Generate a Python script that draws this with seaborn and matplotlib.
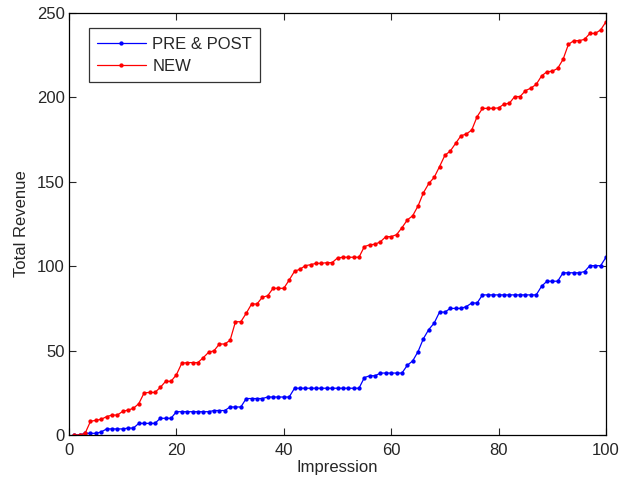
import numpy as np
import pandas as pd
import matplotlib
matplotlib.use("Agg")
import matplotlib.pyplot as plt
import seaborn as sns

impression = list(range(1, 101))

pre_post = [0, 0, 1, 1, 1, 1.8, 3.6, 3.6, 3.6, 3.6,
            4.1, 4.1, 6.9, 6.9, 6.9, 6.9, 9.9, 9.9, 9.9, 13.8,
            13.8, 13.8, 13.8, 13.8, 13.8, 13.8, 14.5, 14.5, 14.5, 16.6,
            16.6, 16.6, 21.6, 21.6, 21.6, 21.6, 22.5, 22.5, 22.5, 22.5,
            22.5, 27.7, 27.7, 27.7, 27.7, 27.7, 27.7, 27.7, 27.7, 27.7,
            27.7, 27.7, 27.7, 27.7, 34.0, 35.1, 35.1, 36.7, 36.7, 36.7,
            36.7, 36.7, 41.3, 43.9, 49.4, 57.1, 62.5, 66.3, 72.8, 72.8,
            75.0, 75.0, 75.0, 76.1, 78.2, 78.2, 83.0, 83.0, 83.0, 83.0,
            83.0, 83.0, 83.0, 83.0, 83.0, 83.0, 83.0, 88.1, 91.1, 91.1,
            91.1, 96.1, 96.1, 96.1, 96.1, 96.8, 100.3, 100.3, 100.3, 105.3]

new = [0, 0, 1, 8.1, 8.7, 9.3, 10.9, 11.8, 11.8, 14.0,
       14.8, 15.8, 18.6, 25.0, 25.2, 25.2, 28.2, 31.8, 31.8, 35.7,
       42.5, 42.9, 42.9, 42.9, 45.8, 49.0, 49.9, 53.9, 53.9, 56.1,
       67.1, 67.1, 72.1, 77.6, 77.6, 81.6, 82.5, 86.9, 86.9, 86.9,
       91.8, 97.0, 98.2, 100.3, 100.9, 101.7, 101.7, 102.1, 102.1, 104.9,
       105.3, 105.3, 105.3, 105.3, 111.6, 112.7, 113.0, 114.5, 117.5, 117.5,
       118.7, 122.8, 127.4, 129.9, 135.7, 143.5, 149.0, 152.6, 159.0, 165.7,
       168.2, 172.8, 177.3, 178.3, 180.7, 188.6, 193.5, 193.5, 193.5, 193.8,
       196.0, 196.5, 200.5, 200.5, 204.0, 205.5, 207.7, 212.7, 215.2, 215.5,
       217.2, 222.5, 231.4, 233.6, 233.6, 234.4, 237.9, 237.9, 240.0, 244.8]

series_names = ["PRE & POST", "NEW"]
colors = {"PRE & POST": "#0000ff", "NEW": "#ff0000"}

df = pd.DataFrame({
    "Impression": impression * 2,
    "Total Revenue": pre_post + new,
    "series": [series_names[0]] * len(impression) + [series_names[1]] * len(impression),
})

sns.set_style("ticks")
plt.rcParams["font.family"] = ["Liberation Sans", "DejaVu Sans"]

fig = plt.figure(figsize=(6.35, 4.78), dpi=100)
ax = fig.add_axes([69 / 635, 1 - 435 / 478, (606 - 69) / 635, (435 - 13) / 478])

sns.lineplot(data=df, x="Impression", y="Total Revenue", hue="series",
             hue_order=series_names, palette=colors, marker="o",
             markersize=3.1, markeredgewidth=0, linewidth=0.9, ax=ax)

ax.set_xlim(0, 100)
ax.set_ylim(0, 250)
ax.set_xticks([0, 20, 40, 60, 80, 100])
ax.set_yticks([0, 50, 100, 150, 200, 250])
ax.tick_params(direction="in", top=True, right=True, labelsize=12, length=5, width=0.8)
ax.tick_params(axis="x", pad=6)
ax.tick_params(axis="y", pad=3)
for s in ax.spines.values():
    s.set_visible(True)
    s.set_linewidth(0.9)
    s.set_color("black")
ax.set_xlabel("Impression", fontsize=12, labelpad=1)
ax.set_ylabel("Total Revenue", fontsize=12, labelpad=6)

leg = ax.legend(loc="upper left", bbox_to_anchor=(0.037, 0.964), frameon=True,
                fancybox=False, edgecolor="black", handlelength=2.9,
                fontsize=12, borderpad=0.5, labelspacing=0.45, handletextpad=0.4,
                borderaxespad=0)
leg.get_frame().set_linewidth(0.9)

fig.savefig("out.png", dpi=100)
